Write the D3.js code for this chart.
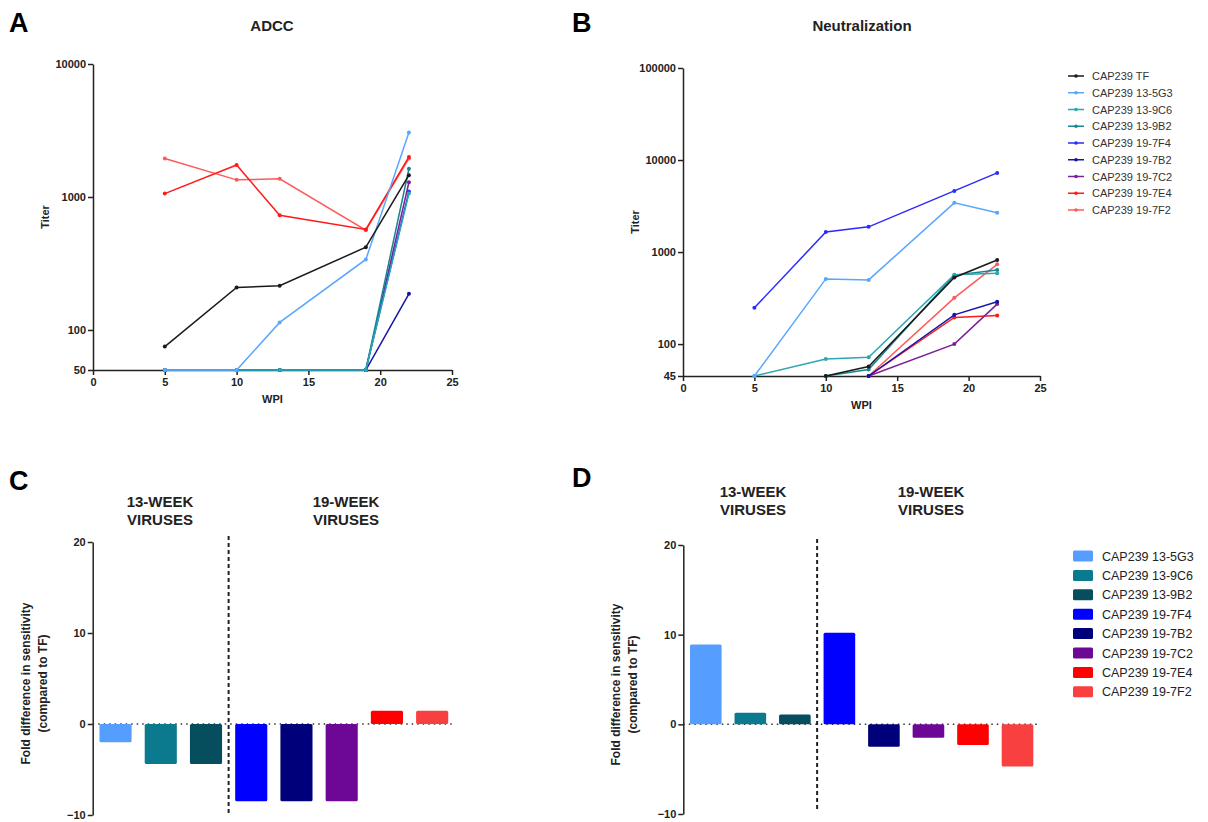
<!DOCTYPE html>
<html>
<head>
<meta charset="utf-8">
<script src="https://cdn.jsdelivr.net/npm/d3@7"></script>
<style>
  body { margin: 0; background: #fff; }
  svg { font-family: "Liberation Sans", Arial, sans-serif; }
  .axis text { font-weight: bold; font-size: 11px; fill: #222; }
  .axis path, .axis line { stroke: #222; stroke-width: 1.5; }
</style>
</head>
<body>
<svg id="fig" width="1208" height="822"></svg>
<script>
// series names + colours
const names = ['CAP239 TF', 'CAP239 13-5G3', 'CAP239 13-9C6', 'CAP239 13-9B2', 'CAP239 19-7F4',
  'CAP239 19-7B2', 'CAP239 19-7C2', 'CAP239 19-7E4', 'CAP239 19-7F2'];
const lineColors = ['#1a1a1a', '#5aa6ff', '#2aa7b3', '#17878f', '#2b2bff', '#1414a8', '#7d1f96', '#ff1a1a', '#ff5a5a'];
const wpi = [5, 10, 13, 19, 22];

// ADCC titers (panel A)
const adcc = [
  [75, 209, 215, 419, 1460],
  [50, 50, 114, 339, 3050],
  [50, 50, 50, 50, 1060],
  [50, 50, 50, 50, 1630],
  [50, 50, 50, 50, 1100],
  [50, 50, 50, 50, 187],
  [50, 50, 50, 50, 1290],
  [1060, 1740, 728, 570, 2000],
  [1950, 1345, 1370, 562, 1950]
];
// neutralization titers (panel B), null = not measured
const neut = [
  [null, 45, 57, 529, 819],
  [45, 511, 498, 3425, 2670],
  [45, 69, 72, 566, 590],
  [null, 45, 53, 560, 638],
  [248, 1650, 1880, 4620, 7250],
  [null, null, 45, 208, 288],
  [null, null, 45, 100, 272],
  [null, null, 45, 195, 205],
  [null, null, 45, 318, 736]
];

// fold differences (panels C, D)
const barNames = names.slice(1);
const barColors = ['#559dff', '#0b7a8f', '#064e5e', '#0000ff', '#00007a', '#6d0795', '#ff0000', '#f84040'];
const foldADCC = [-2, -4.4, -4.4, -8.5, -8.5, -8.5, 1.45, 1.45];
const foldNeut = [8.9, 1.3, 1.1, 10.2, -2.5, -1.5, -2.3, -4.7];

const svg = d3.select('#fig');

const bigLabel = (x, y, t) => svg.append('text').attr('x', x).attr('y', y)
  .attr('font-size', 27).attr('font-weight', 'bold').text(t);
const boldText = (x, y, t, size, anchor) => svg.append('text').attr('x', x).attr('y', y)
  .attr('font-size', size).attr('font-weight', 'bold').attr('text-anchor', anchor || 'middle').attr('fill', '#222').text(t);

const drawLines = (p) => {
  const { data, x0, x1, yTop, yBot, yMin, yMax, yTicks, title, titleX } = p;
  const x = d3.scaleLinear().domain([0, 25]).range([x0, x1]);
  const y = d3.scaleLog().domain([yMin, yMax]).range([yBot, yTop]);

  svg.append('g').attr('class', 'axis').attr('transform', `translate(0,${yBot})`)
    .call(d3.axisBottom(x).tickValues([0, 5, 10, 15, 20, 25]).tickSize(5).tickPadding(3).tickSizeOuter(0));
  svg.append('g').attr('class', 'axis').attr('transform', `translate(${x0},0)`)
    .call(d3.axisLeft(y).tickValues(yTicks).tickFormat(d3.format('d')).tickSize(5).tickPadding(2).tickSizeOuter(0));

  const line = d3.line().defined(d => d != null).x((d, i) => x(wpi[i])).y(d => y(d));
  // draw last series first so TF ends up on top
  for (let k = data.length - 1; k >= 0; k--) {
    const s = data[k];
    svg.append('path').datum(s).attr('d', line).attr('fill', 'none')
      .attr('stroke', lineColors[k]).attr('stroke-width', 1.5);
    svg.selectAll(null).data(s.map((d, i) => [wpi[i], d]).filter(d => d[1] != null)).enter().append('circle')
      .attr('cx', d => x(d[0])).attr('cy', d => y(d[1])).attr('r', 2).attr('fill', lineColors[k]);
  }

  boldText(titleX, 31, title, 15);
  boldText((x0 + x1) / 2, yBot + 33, 'WPI', 11);
  svg.append('text').attr('transform', `translate(${x0 - 44},${(yTop + yBot) / 2}) rotate(-90)`)
    .attr('text-anchor', 'middle').attr('font-size', 11).attr('font-weight', 'bold').attr('fill', '#222').text('Titer');
};

drawLines({ data: adcc, x0: 93, x1: 452, yTop: 64, yBot: 370, yMin: 50, yMax: 10000,
  yTicks: [50, 100, 1000, 10000], title: 'ADCC', titleX: 272 });
drawLines({ data: neut, x0: 683, x1: 1040, yTop: 68, yBot: 376, yMin: 45, yMax: 100000,
  yTicks: [45, 100, 1000, 10000, 100000], title: 'Neutralization', titleX: 862 });

bigLabel(9, 32, 'A');
bigLabel(572, 32, 'B');
bigLabel(9, 490, 'C');
bigLabel(572, 487, 'D');

// legend B
const lg = svg.append('g');
names.forEach((n, i) => {
  const yy = 76 + i * 16.75;
  lg.append('line').attr('x1', 1068).attr('x2', 1084).attr('y1', yy).attr('y2', yy)
    .attr('stroke', lineColors[i]).attr('stroke-width', 1.5);
  lg.append('circle').attr('cx', 1076).attr('cy', yy).attr('r', 1.8).attr('fill', lineColors[i]);
  lg.append('text').attr('x', 1092).attr('y', yy + 4).attr('font-size', 11).attr('fill', '#333').text(n);
});

const drawBars = (p) => {
  const { vals, x0, x1, yTop, yBot, headY, head1, head2 } = p;
  const x = d3.scaleBand().domain(barNames).range([x0, x1]).paddingInner(0.29).paddingOuter(0.15);
  const y = d3.scaleLinear().domain([-10, 20]).range([yBot, yTop]);

  svg.append('g').attr('class', 'axis').attr('transform', `translate(${x0},0)`)
    .call(d3.axisLeft(y).tickValues([-10, 0, 10, 20]).tickSize(5).tickPadding(2).tickSizeOuter(0));

  svg.append('line').attr('x1', x0).attr('x2', x1).attr('y1', y(0)).attr('y2', y(0))
    .attr('stroke', '#333').attr('stroke-width', 1.5).attr('stroke-dasharray', '1.5,4');

  svg.selectAll(null).data(vals).enter().append('rect')
    .attr('x', (d, i) => x(barNames[i])).attr('width', x.bandwidth())
    .attr('y', d => y(Math.max(0, d))).attr('height', d => Math.abs(y(d) - y(0)))
    .attr('fill', (d, i) => barColors[i]).attr('rx', 1.5);

  const xs = (x(barNames[2]) + x.bandwidth() + x(barNames[3])) / 2;
  svg.append('line').attr('x1', xs).attr('x2', xs).attr('y1', yTop - 6).attr('y2', yBot - 2)
    .attr('stroke', '#222').attr('stroke-width', 2).attr('stroke-dasharray', '4,3');

  boldText(head1, headY, '13-WEEK', 15);
  boldText(head1, headY + 18, 'VIRUSES', 15);
  boldText(head2, headY, '19-WEEK', 15);
  boldText(head2, headY + 18, 'VIRUSES', 15);

  const yl = svg.append('text').attr('transform', `translate(${x0 - 63},${(yTop + yBot) / 2 + 5}) rotate(-90)`)
    .attr('text-anchor', 'middle').attr('font-size', 12).attr('font-weight', 'bold').attr('fill', '#222');
  yl.append('tspan').attr('x', 0).attr('dy', 0).text('Fold difference in sensitivity');
  yl.append('tspan').attr('x', 0).attr('dy', 17).text('(compared to TF)');
};

drawBars({ vals: foldADCC, x0: 92.7, x1: 455, yTop: 542, yBot: 815, headY: 507, head1: 160, head2: 346 });
drawBars({ vals: foldNeut, x0: 683.3, x1: 1040, yTop: 545, yBot: 814, headY: 497, head1: 753, head2: 931 });

// legend D
barNames.forEach((n, i) => {
  const yy = 556 + i * 19.4;
  svg.append('rect').attr('x', 1073).attr('y', yy - 5.5).attr('width', 20).attr('height', 11)
    .attr('rx', 1.5).attr('fill', barColors[i]);
  svg.append('text').attr('x', 1102).attr('y', yy + 4.5).attr('font-size', 12.5).attr('fill', '#222').text(n);
});
</script>
</body>
</html>
